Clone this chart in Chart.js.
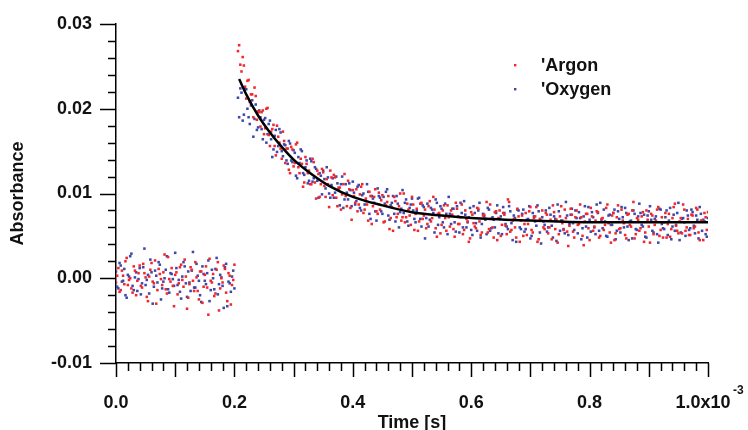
<!DOCTYPE html>
<html>
<head>
<meta charset="utf-8">
<script src="https://cdn.jsdelivr.net/npm/chart.js@4.4.1/dist/chart.umd.min.js"></script>
<style>
  html, body { margin: 0; padding: 0; background: #fff; }
</style>
</head>
<body>
<canvas id="absorbance" width="748" height="430"></canvas>
<script>
// sampling of the transient: times in microseconds
// two interleaved sweeps, the second shifted by 2 us
const sampleStep = 4;
const preStart = 0;
const postStart = 206;
const preStart2 = 2;
const postStart2 = 208;

// absorbance values, in units of 1e-4
const argonPre = [-5, 12, -14, 3, 20, -8, 0, -17, 9, -3, 15, -11, 6, -22, 2, 18, -6, -30, 11, -1, 7, -13, 25, -4, -9, 4, -19, 13, -2, 22, -36, -7, 10, -15, 1, -25, 8, -10, 14, -43, -3, 5, -18, 19, -12, -5, 11, -27, 3, -8, 16];
const oxygenPre = [8, -12, 15, -3, -20, 4, 26, -9, 1, -15, 12, -6, 35, -2, -18, 7, -10, 3, 19, -25, -4, 10, -13, 6, -1, 30, -8, -16, 2, 14, -22, -5, 9, -11, 17, -3, -28, 5, -7, 21, -14, 0, 11, -19, 4, -9, 13, -33, -6, 2, -12];
const argonPre2 = [3, -16, 9, -7, 24, -2, -12, 14, -20, 6, -9, 17, 1, -27, 10, -4, 21, -14, 5, -8, 28, -18, -1, 12, -33, 7, -6, 16, -10, 2, -23, 13, -3, 19, -15, 8, -29, 4, -11, 23, -5, -21, 10, -38, 0, 15, -17, 6, -31, -2];
const oxygenPre2 = [-10, 18, -4, 11, -23, 2, 29, -14, 7, -1, -19, 13, -8, 4, 22, -30, 9, -5, 16, -12, 0, 26, -17, 5, -9, 12, -2, -24, 19, -6, 8, -15, 31, -11, 3, -20, 14, -3, 6, -27, 10, -13, 24, -7, 1, -35, 17, -4, -16, 9];

const argonPost = [
  268, 252, 261, 226, 233, 208, 217, 225, 187, 196,
  196, 170, 200, 169, 173, 181, 145, 167, 153, 173,
  136, 153, 124, 152, 136, 160, 124, 135, 113, 135,
  127, 111, 137, 94, 123, 111, 125, 96, 111, 127,
  98, 119, 85, 107, 99, 123, 85, 105, 69, 97,
  105, 87, 108, 77, 94, 68, 97, 85, 105, 76,
  81, 98, 67, 90, 58, 84, 96, 72, 85, 68,
  100, 72, 81, 63, 87, 76, 56, 88, 70, 81,
  64, 91, 71, 81, 49, 77, 63, 86, 56, 72,
  80, 58, 89, 64, 72, 52, 80, 67, 47, 75,
  61, 83, 67, 54, 75, 90, 58, 70, 48, 79,
  71, 50, 77, 62, 93, 55, 68, 60, 82, 43,
  74, 64, 51, 79, 57, 71, 84, 46, 68, 60,
  77, 53, 69, 86, 58, 42, 73, 65, 81, 55,
  62, 75, 48, 80, 64, 72, 39, 76, 59, 83,
  56, 68, 78, 50, 71, 63, 87, 54, 74, 45,
  72, 58, 81, 65, 47, 76, 61, 90, 52, 69,
  59, 78, 54, 69, 42, 74, 63, 81, 50, 72,
  66, 48, 76, 58, 84, 62, 53, 71, 87, 56,
  70, 51, 74, 61, 81, 45, 68, 77, 57
];
const argonPost2 = [
  275, 244, 251, 212, 234, 217, 190, 215, 197, 179,
  198, 177, 201, 156, 176, 156, 180, 160, 141, 162,
  153, 128, 155, 132, 158, 131, 141, 108, 143, 124,
  111, 141, 113, 127, 96, 129, 109, 117, 84, 119,
  122, 95, 107, 81, 111, 97, 115, 83, 104, 89,
  79, 99, 111, 81, 87, 102, 64, 96, 79, 101,
  92, 66, 86, 97, 71, 56, 91, 76, 100, 72,
  66, 88, 74, 96, 57, 82, 67, 89, 74, 59,
  85, 67, 96, 59, 76, 53, 80, 71, 86, 61,
  75, 49, 82, 64, 87, 57, 70, 43, 78, 65,
  59, 82, 51, 74, 70, 54, 87, 60, 78, 45,
  80, 63, 75, 52, 90, 57, 70, 48, 73, 68,
  50, 77, 64, 84, 54, 73, 43, 70, 80, 58,
  75, 60, 46, 78, 69, 52, 85, 57, 71, 38,
  82, 55, 72, 63, 87, 50, 67, 76, 45, 73,
  61, 79, 48, 70, 57, 83, 65, 42, 77, 53,
  86, 59, 68, 51, 75, 63, 80, 47, 71, 56,
  73, 43, 80, 61, 76, 52, 68, 84, 57, 48,
  77, 64, 49, 71, 88, 56, 67, 53, 81, 60,
  51, 75, 59, 83, 54, 68, 45, 72, 78
];
const oxygenPost = [
  213, 224, 186, 223, 200, 182, 210, 188, 175, 198,
  176, 187, 160, 182, 164, 152, 175, 156, 172, 144,
  157, 135, 159, 137, 148, 118, 136, 150, 122, 139,
  115, 138, 118, 129, 95, 121, 127, 106, 119, 95,
  118, 101, 112, 86, 120, 93, 101, 112, 85, 101,
  91, 110, 80, 100, 91, 102, 70, 94, 79, 106,
  95, 76, 88, 105, 69, 89, 76, 97, 60, 82,
  77, 93, 62, 87, 80, 66, 94, 70, 86, 47,
  88, 69, 81, 54, 89, 72, 82, 60, 76, 96,
  64, 82, 55, 73, 89, 60, 75, 66, 83, 51,
  77, 56, 89, 64, 73, 52, 81, 59, 69, 77,
  53, 73, 84, 64, 58, 79, 45, 71, 81, 60,
  76, 55, 69, 85, 50, 73, 62, 79, 41, 67,
  80, 60, 75, 48, 70, 87, 56, 68, 53, 74,
  64, 82, 57, 71, 78, 46, 73, 61, 84, 55,
  72, 52, 77, 89, 59, 67, 49, 75, 63, 81,
  56, 70, 84, 60, 77, 45, 68, 80, 58, 73,
  77, 61, 49, 74, 85, 56, 70, 52, 82, 64,
  58, 80, 68, 46, 75, 63, 89, 54, 71, 50,
  74, 59, 78, 53, 69, 84, 56, 67, 49
];
const oxygenPost2 = [
  190, 219, 193, 223, 190, 204, 167, 205, 178, 190,
  164, 189, 170, 186, 143, 168, 149, 176, 150, 158,
  139, 162, 139, 151, 121, 143, 152, 124, 131, 112,
  141, 114, 131, 115, 124, 99, 117, 131, 100, 110,
  95, 120, 105, 111, 83, 111, 93, 104, 114, 87,
  108, 83, 98, 87, 111, 76, 97, 89, 68, 97,
  79, 96, 102, 74, 86, 97, 67, 88, 78, 104,
  89, 67, 83, 94, 70, 79, 95, 61, 84, 71,
  61, 83, 77, 93, 63, 85, 66, 88, 52, 76,
  82, 66, 85, 54, 77, 91, 60, 72, 57, 85,
  65, 80, 48, 76, 69, 83, 56, 72, 60, 86,
  70, 52, 77, 61, 85, 65, 74, 43, 80, 58,
  81, 58, 70, 47, 77, 67, 86, 54, 72, 63,
  55, 83, 62, 73, 44, 79, 68, 58, 90, 51,
  75, 65, 80, 53, 71, 59, 85, 48, 69, 78,
  60, 87, 56, 68, 81, 50, 74, 63, 77, 46,
  79, 54, 72, 83, 61, 67, 47, 76, 57, 88,
  63, 75, 48, 79, 69, 54, 73, 42, 81, 59,
  72, 51, 83, 61, 56, 77, 45, 70, 66, 80,
  57, 81, 62, 74, 47, 76, 69, 52, 71
];

// fitted decay curve (time in us, absorbance in 1e-4)
const fitTime = [208, 220, 240, 260, 280, 300, 330, 360, 400, 450, 500, 550, 600, 700, 800, 900, 1000];
const fitAbs = [235, 217, 192, 172, 155, 140, 123, 109, 96, 86, 78, 74, 71, 68, 66, 66, 66];

const xTickValues = [0, 0.0002, 0.0004, 0.0006, 0.0008, 0.001];
const xTickLabels = ["0.0", "0.2", "0.4", "0.6", "0.8", "1.0x10  "];
const yTickValues = [-0.01, 0, 0.01, 0.02, 0.03];
const yTickLabels = ["-0.01", "0.00", "0.01", "0.02", "0.03"];

const seriesNames = ["'Argon", "'Oxygen"];
const seriesColors = ["#f0282d", "#3c48aa"];

const FONT = "'Liberation Sans', Arial, sans-serif";

function toPoints(start, vals) {
	let pts = [];
	for (let i = 0; i < vals.length; i++) {
		pts.push({ x: (start + i * sampleStep) * 1e-6, y: vals[i] * 1e-4 });
	}
	return pts;
}

let argonPts = toPoints(preStart, argonPre)
	.concat(toPoints(preStart2, argonPre2))
	.concat(toPoints(postStart, argonPost))
	.concat(toPoints(postStart2, argonPost2));
let oxygenPts = toPoints(preStart, oxygenPre)
	.concat(toPoints(preStart2, oxygenPre2))
	.concat(toPoints(postStart, oxygenPost))
	.concat(toPoints(postStart2, oxygenPost2));
let fitPts = fitTime.map((t, i) => ({ x: t * 1e-6, y: fitAbs[i] * 1e-4 }));

// minor/major tick marks, exponent and legend, drawn against the chart scales
const extrasPlugin = {
	id: "extras",
	afterDraw(chart) {
		const ctx = chart.ctx;
		const xs = chart.scales.x;
		const ys = chart.scales.y;
		const ca = chart.chartArea;
		ctx.save();
		ctx.strokeStyle = "#000";
		ctx.lineWidth = 1.5;
		ctx.beginPath();
		for (let k = 0; k <= 50; k++) {
			let px = Math.round(xs.getPixelForValue(k * 2e-5)) + 0.5;
			let len = k % 5 == 0 ? 14 : 8;
			ctx.moveTo(px, ca.bottom);
			ctx.lineTo(px, ca.bottom + len);
		}
		for (let k = 0; k <= 20; k++) {
			let py = Math.round(ys.getPixelForValue(-0.01 + k * 0.002)) + 0.5;
			let len = k % 5 == 0 ? 16 : 8;
			ctx.moveTo(ca.left - len, py);
			ctx.lineTo(ca.left, py);
		}
		ctx.stroke();

		ctx.fillStyle = "#111";
		ctx.font = "bold 12px " + FONT;
		ctx.textAlign = "left";
		ctx.textBaseline = "middle";
		ctx.fillText("-3", xs.getPixelForValue(0.001) + 25, ca.bottom + 28);

		ctx.font = "bold 18px " + FONT;
		for (let i = 0; i < seriesNames.length; i++) {
			let y = 65 + i * 24;
			ctx.fillStyle = seriesColors[i];
			ctx.fillRect(514, y - 1, 2.4, 2.4);
			ctx.fillStyle = "#111";
			ctx.fillText(seriesNames[i], 541, y + 1);
		}
		ctx.restore();
	},
};

let obj = {
	type: "scatter",
	data: {
		datasets: [
			{
				type: "line",
				label: "fit",
				data: fitPts,
				borderColor: "#000",
				borderWidth: 2.5,
				pointRadius: 0,
				cubicInterpolationMode: "monotone",
				fill: false,
			},
			{
				label: seriesNames[0],
				data: argonPts,
				backgroundColor: seriesColors[0],
				pointStyle: "rect",
				pointRadius: 1.8,
				borderWidth: 0,
			},
			{
				label: seriesNames[1],
				data: oxygenPts,
				backgroundColor: seriesColors[1],
				pointStyle: "rect",
				pointRadius: 1.8,
				borderWidth: 0,
			},
		],
	},
	options: {
		responsive: false,
		animation: false,
		layout: { padding: { left: 0, right: 40, top: 24, bottom: 0 } },
		plugins: {
			legend: { display: false },
			tooltip: { enabled: false },
		},
		scales: {
			x: {
				type: "linear",
				min: 0,
				max: 0.001,
				afterFit(s) { s.height = 67; s.paddingLeft = 0; s.paddingRight = 0; },
				afterBuildTicks(s) { s.ticks = xTickValues.map((v) => ({ value: v })); },
				grid: { display: false, drawTicks: false },
				border: { display: true, color: "#000", width: 1.5 },
				ticks: {
					autoSkip: false,
					maxRotation: 0,
					padding: 29,
					color: "#111",
					font: { family: FONT, size: 18, weight: "bold" },
					callback: (v, i) => xTickLabels[i],
				},
				title: {
					display: true,
					text: "Time [s]",
					color: "#111",
					font: { family: FONT, size: 18, weight: "bold" },
					padding: { top: 0, bottom: -4 },
				},
			},
			y: {
				type: "linear",
				min: -0.01,
				max: 0.03,
				afterFit(s) { s.width = 116; s.paddingTop = 0; s.paddingBottom = 0; },
				afterBuildTicks(s) { s.ticks = yTickValues.map((v) => ({ value: v })); },
				grid: { display: false, drawTicks: false },
				border: { display: true, color: "#000", width: 1.5 },
				ticks: {
					autoSkip: false,
					padding: 24,
					color: "#111",
					font: { family: FONT, size: 18, weight: "bold" },
					callback: (v, i) => yTickLabels[i],
				},
				title: {
					display: true,
					text: "Absorbance",
					color: "#111",
					font: { family: FONT, size: 18, weight: "bold" },
					padding: { top: 7, bottom: 0 },
				},
			},
		},
	},
	plugins: [extrasPlugin],
};

new Chart("absorbance", obj);
</script>
</body>
</html>
